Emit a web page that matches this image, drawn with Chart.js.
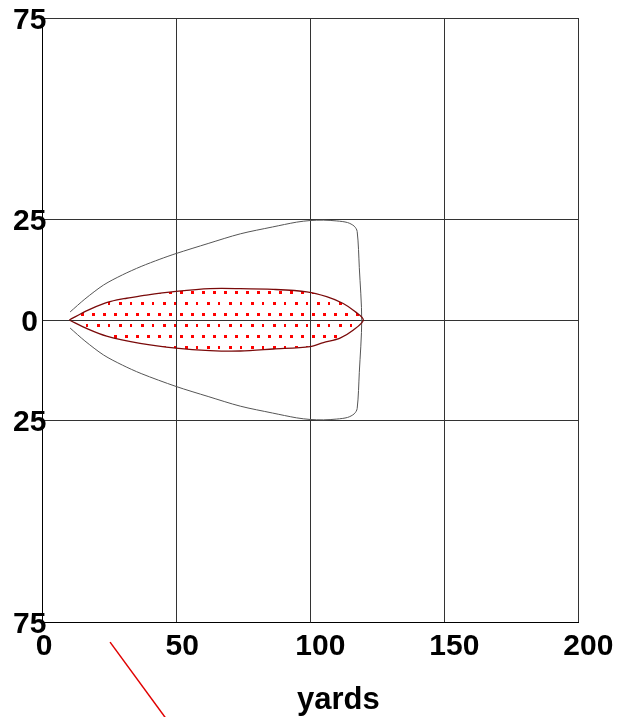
<!DOCTYPE html>
<html>
<head>
<meta charset="utf-8">
<script src="https://cdn.jsdelivr.net/npm/chart.js@4/dist/chart.umd.min.js"></script>
<style>
  body { margin: 0; background: #fff; }
  #wrap { width: 619px; height: 717px; }
</style>
</head>
<body>
<div id="wrap"><canvas id="rangeChart" width="619" height="717"></canvas></div>
<script>
// axis ticks (y labels shown as absolute values)
const xTicks = [0, 50, 100, 150, 200];
const yTicks = [-75, -25, 0, 25, 75];

// outer boundary (thin grey line), yards
const outerX = [10.5, 16, 23, 30, 37, 44, 50, 62, 74, 86, 95, 100, 105, 110, 114, 116.5, 117.6, 118.4, 119.3,
  118.4, 117.6, 116.5, 114, 110, 105, 100, 95, 86, 74, 62, 50, 37, 30, 23, 16, 10.5];
const outerY = [2.0, 5.2, 8.7, 11.2, 13.3, 15.1, 16.5, 19.0, 21.4, 23.1, 24.3, 24.7, 24.8, 24.6, 24.2, 23.3, 22, 13, 0,
  -13, -22, -23.3, -24.2, -24.6, -24.8, -24.7, -24.3, -23.1, -21.4, -19.0, -16.5, -13.3, -11.2, -8.7, -5.2, -2.0];

// inner dotted zone (red outline)
const innerX = [10.2, 17, 23.5, 28, 31.6, 39, 50, 62.7, 74, 86.3, 98.8, 106.2, 112.4, 116.8, 119.9,
  116.2, 111.2, 105, 100, 86.3, 74, 62.7, 50, 36.6, 24.1, 17, 10.2];
const innerY = [0, 2.4, 4.2, 5.0, 5.4, 6.2, 7.1, 7.8, 7.8, 7.6, 7.0, 5.8, 4.1, 2.1, 0,
  -2.5, -4.5, -5.6, -6.6, -7.2, -7.7, -7.6, -7.0, -5.8, -4.0, -2.2, 0];

// stray red stroke below the axis
const strokeX = [25.4, 47.4];
const strokeY = [-80, -100];

const toPoints = (xs, ys) => xs.map((x, i) => ({ x: x, y: ys[i] }));

// red dot pattern for the inner zone
const tile = document.createElement("canvas");
tile.width = 22;
tile.height = 22;
const tctx = tile.getContext("2d");
tctx.fillStyle = "#ff0000";
tctx.fillRect(4, 5, 3, 3);
tctx.fillRect(15, 5, 3, 3);
tctx.fillRect(9, 16, 3, 3);
tctx.fillRect(20, 16, 3, 3);

const ctx = document.getElementById("rangeChart").getContext("2d");
const dots = ctx.createPattern(tile, "repeat");

const fontFamily = "'Liberation Sans', Arial, sans-serif";
const tickFont = { family: fontFamily, size: 30, weight: "bold" };

new Chart(ctx, {
  type: "scatter",
  data: {
    datasets: [
      {
        data: toPoints(innerX, innerY),
        showLine: true,
        borderColor: "#7a0a0a",
        borderWidth: 1.3,
        backgroundColor: dots,
        fill: "shape",
        pointRadius: 0,
        tension: 0.3,
      },
      {
        data: toPoints(outerX, outerY),
        showLine: true,
        borderColor: "#555",
        borderWidth: 1,
        pointRadius: 0,
        fill: false,
        tension: 0.3,
      },
      {
        data: toPoints(strokeX, strokeY),
        showLine: true,
        borderColor: "#e00000",
        borderWidth: 1.5,
        pointRadius: 0,
        fill: false,
        clip: false,
      },
    ],
  },
  options: {
    responsive: false,
    devicePixelRatio: 1,
    animation: false,
    layout: { padding: { left: 0, top: 18, right: 41, bottom: 0 } },
    plugins: { legend: { display: false }, tooltip: { enabled: false } },
    scales: {
      x: {
        min: 0,
        max: 200,
        afterBuildTicks: (scale) => { scale.ticks = xTicks.map((v) => ({ value: v })); },
        afterFit: (scale) => { scale.height = 95; },
        grid: { color: "#333", drawTicks: false },
        border: { color: "#000", width: 1 },
        ticks: {
          font: tickFont,
          color: "#000",
          padding: 7,
          labelOffset: 2,
          maxRotation: 0,
          // labels sit a little right of their gridline, more so for longer numbers
          callback: (v) => " ".repeat(String(v).length - 1) + String(v),
        },
        title: {
          display: true,
          text: "\u2003   yards",
          color: "#000",
          font: { family: fontFamily, size: 31, weight: "bold" },
          padding: { top: 0, bottom: -2 },
        },
      },
      y: {
        min: -75,
        max: 75,
        afterBuildTicks: (scale) => { scale.ticks = yTicks.map((v) => ({ value: v })); },
        afterFit: (scale) => { scale.width = 42; },
        grid: { color: "#333", drawTicks: false },
        border: { color: "#000", width: 1 },
        ticks: {
          font: tickFont,
          color: "#000",
          mirror: true,
          padding: -29,
          labelOffset: 2.5,
          crossAlign: "center",
          callback: (v) => Math.abs(v),
        },
      },
    },
  },
});
</script>
</body>
</html>
